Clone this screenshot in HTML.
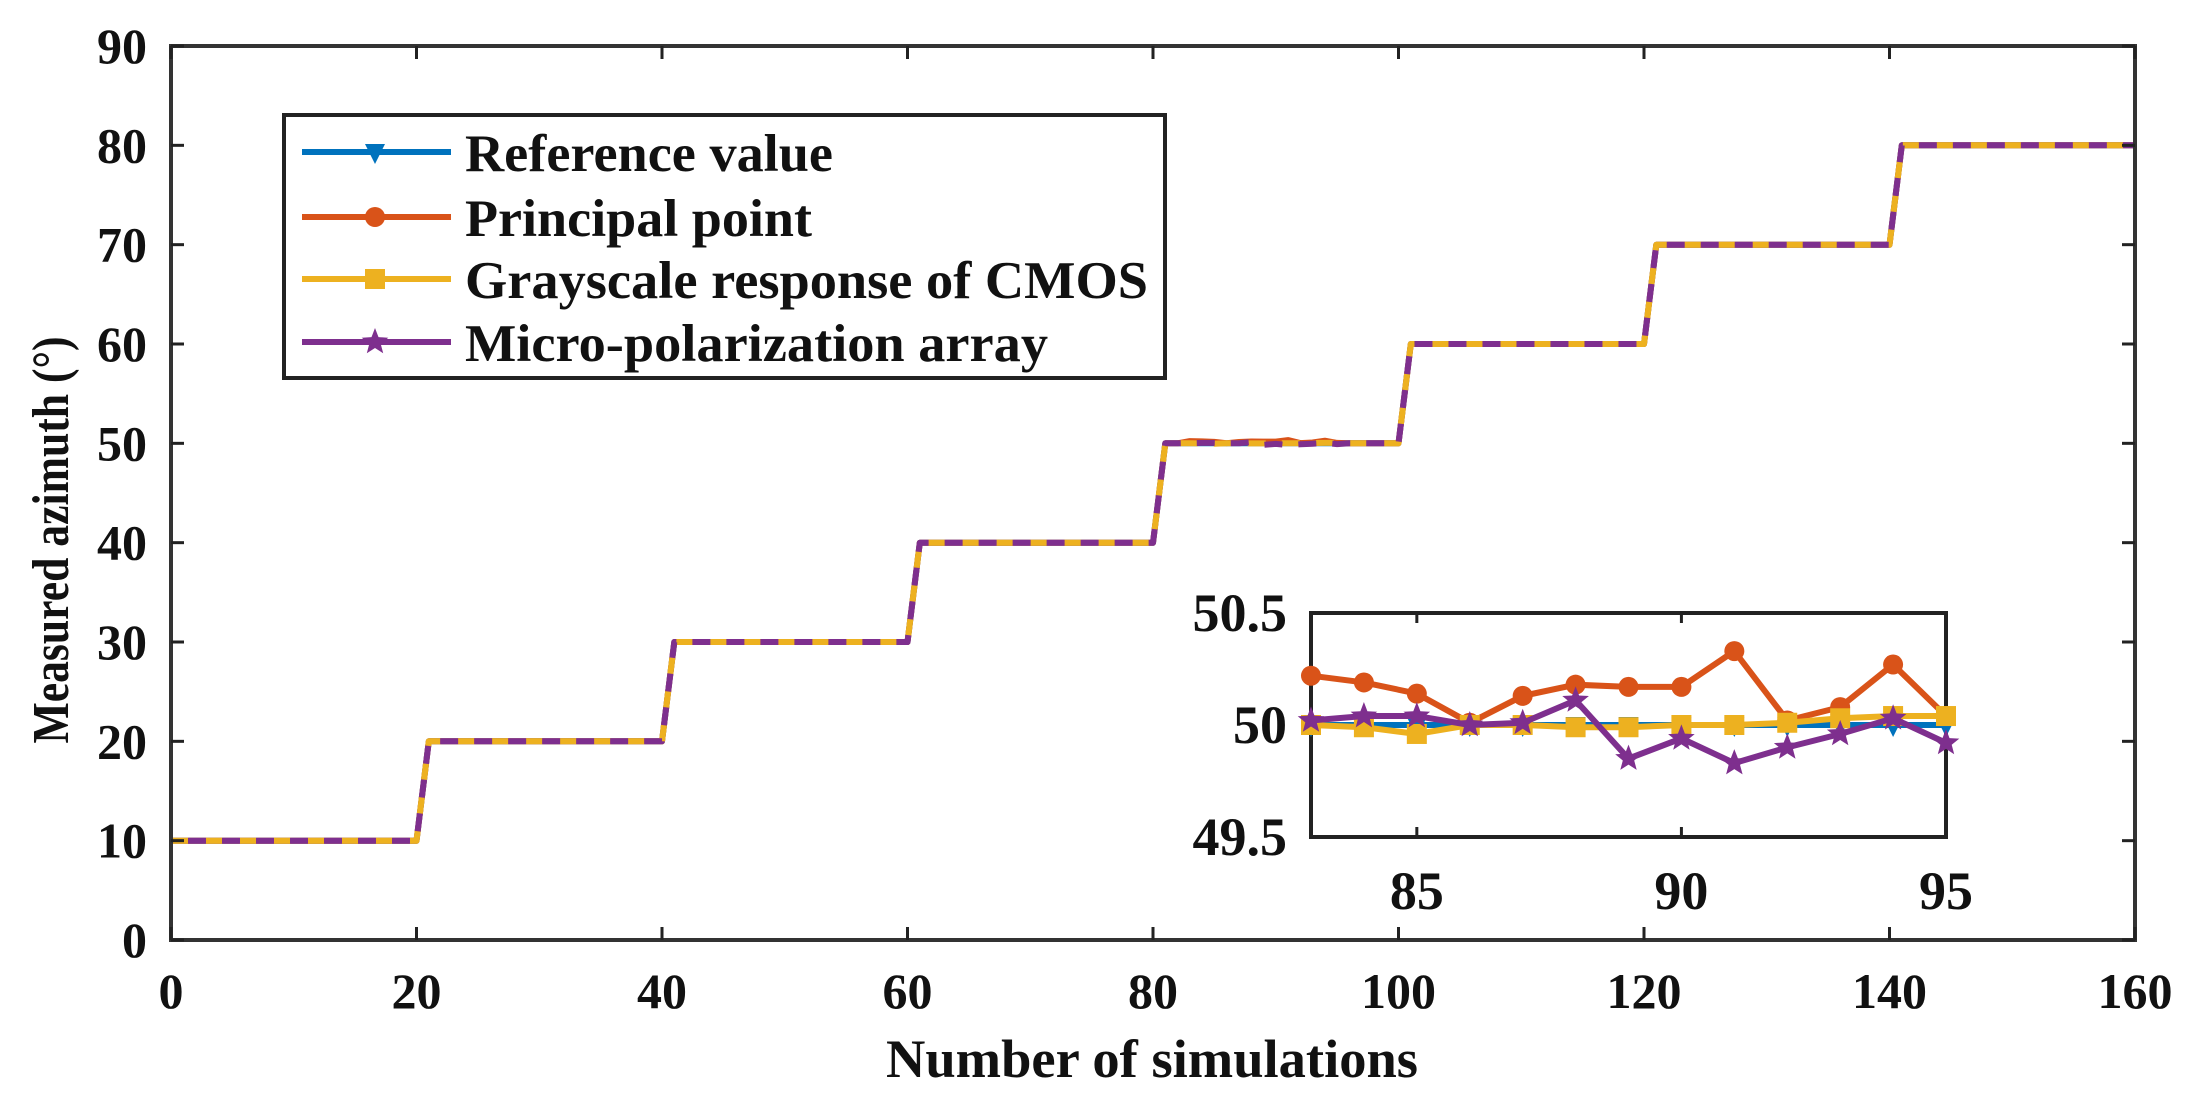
<!DOCTYPE html>
<html><head><meta charset="utf-8"><style>
html,body{margin:0;padding:0;background:#fff;}
svg{display:block;font-family:"Liberation Serif",serif;font-weight:bold;}
</style></head><body>
<svg id="chart" width="2195" height="1113" viewBox="0 0 2195 1113" xmlns="http://www.w3.org/2000/svg">
<rect width="2195" height="1113" fill="#fff"/>
<g id="main"></g>
<g id="inset"></g>
<g id="legend"></g>
</svg>
<script>
// ---- data ----
const stepLevels = [10,20,30,40,50,60,70,80];
const samplesPerStep = 20;
const xTicks = [0,20,40,60,80,100,120,140,160];
const yTicks = [0,10,20,30,40,50,60,70,80,90];
const insetX = [83,84,85,86,87,88,89,90,91,92,93,94,95];
const insetRef = [50,50,50,50,50,50,50,50,50,50,50,50,50];
const insetPrincipal = [50.22,50.19,50.14,50.01,50.13,50.18,50.17,50.17,50.33,50.02,50.08,50.27,50.04];
const insetGray = [50.0,49.99,49.96,50.0,50.0,49.99,49.99,50.0,50.0,50.01,50.03,50.04,50.04];
const insetMicro = [50.02,50.04,50.04,50.0,50.01,50.11,49.85,49.94,49.83,49.90,49.96,50.03,49.92];
const insetXTicks = [85,90,95];
const insetYTicks = [49.5,50,50.5];
const insetYLabels = ["49.5","50","50.5"];
const seriesNames = ["Reference value","Principal point","Grayscale response of CMOS","Micro-polarization array"];

const NS="http://www.w3.org/2000/svg";
function mk(tag,attrs,parent){const e=document.createElementNS(NS,tag);for(const k in attrs)e.setAttribute(k,attrs[k]);parent.appendChild(e);return e;}
const colors=["#0072BD","#D95319","#EDB120","#7E2F8E"];

const L=171,R=2135,T=46,B=940;
const sx=v=>L+(v-0)/(160-0)*(R-L);
const sy=v=>B-(v-0)/(90-0)*(B-T);
const main=document.getElementById('main');

function seriesMain(offsets){
  const pts=[];
  for(let x=0;x<=160;x++){
    let g=Math.min(stepLevels.length-1,Math.max(0,Math.ceil(x/samplesPerStep)-1));
    let v=stepLevels[g];
    const k=insetX.indexOf(x);
    if(k>=0&&offsets) v=v+(offsets[k]-50);
    pts.push([x,v]);
  }
  return pts;
}
const mainSeries=[seriesMain(insetRef),seriesMain(insetPrincipal),seriesMain(insetGray),seriesMain(insetMicro)];
const dashes=["","","18 16","18 16"];
const dashOff=["0","0","0","17"];
mainSeries.forEach((s,i)=>{
  const p=mk('polyline',{points:s.map(d=>sx(d[0]).toFixed(1)+','+sy(d[1]).toFixed(1)).join(' '),fill:'none',stroke:colors[i],'stroke-width':6,'stroke-dasharray':dashes[i]||'none','stroke-dashoffset':dashOff[i],'stroke-linejoin':'round'},main);
  
  
});
const frame=mk('rect',{x:L,y:T,width:R-L,height:B-T,fill:'none',stroke:'#333','stroke-width':4},main);


xTicks.forEach(v=>{
  mk('line',{x1:sx(v),x2:sx(v),y1:B,y2:B-13,stroke:'#222','stroke-width':3},main);
  mk('line',{x1:sx(v),x2:sx(v),y1:T,y2:T+13,stroke:'#222','stroke-width':3},main);
  const t=mk('text',{x:sx(v),y:1008,'font-size':50,'text-anchor':'middle',fill:'#111'},main);
  t.textContent=v;
  
  
});
yTicks.forEach(v=>{
  mk('line',{x1:L,x2:L+13,y1:sy(v),y2:sy(v),stroke:'#222','stroke-width':3},main);
  mk('line',{x1:R,x2:R-13,y1:sy(v),y2:sy(v),stroke:'#222','stroke-width':3},main);
  const t=mk('text',{x:147,y:sy(v)+17,'font-size':50,'text-anchor':'end',fill:'#111'},main);
  t.textContent=v;
  
  
});
const xt=mk('text',{x:1152,y:1077,'font-size':54,'text-anchor':'middle',fill:'#111',textLength:532,lengthAdjust:'spacingAndGlyphs'},main);
xt.textContent="Number of simulations";


const yt=mk('text',{x:0,y:0,'font-size':52,'text-anchor':'middle',fill:'#111',transform:'translate(68,540) rotate(-90)',textLength:407,lengthAdjust:'spacingAndGlyphs'},main);
yt.textContent="Measured azimuth (°)";



const iL=1311,iR=1946,iT=613,iB=837;
const ix=v=>iL+(v-83)/(95-83)*(iR-iL);
const iy=v=>iB-(v-49.5)/(50.5-49.5)*(iB-iT);
const inset=document.getElementById('inset');
const ib=mk('rect',{x:iL,y:iT,width:iR-iL,height:iB-iT,fill:'#fff',stroke:'#222','stroke-width':4},inset);


function marker(type,x,y,c,g){
  if(type===0){mk('polygon',{points:`${x-10},${y-8} ${x+10},${y-8} ${x},${y+12}`,fill:c},g);}
  else if(type===1){mk('circle',{cx:x,cy:y,r:10,fill:c},g);}
  else if(type===2){mk('rect',{x:x-10,y:y-10,width:20,height:20,fill:c},g);}
  else{let p=[];for(let k=0;k<10;k++){const r=k%2?6:14;const a=-Math.PI/2+k*Math.PI/5;p.push((x+r*Math.cos(a)).toFixed(1)+','+(y+r*Math.sin(a)).toFixed(1));}mk('polygon',{points:p.join(' '),fill:c},g);}
}
const insetSeries=[insetRef,insetPrincipal,insetGray,insetMicro];
insetSeries.forEach((s,i)=>{
  const g=mk('g',{},inset);
  
  
  mk('polyline',{points:s.map((v,k)=>ix(insetX[k]).toFixed(1)+','+iy(v).toFixed(1)).join(' '),fill:'none',stroke:colors[i],'stroke-width':6},g);
  s.forEach((v,k)=>marker(i,ix(insetX[k]),iy(v),colors[i],g));
});
insetXTicks.forEach(v=>{
  mk('line',{x1:ix(v),x2:ix(v),y1:iB,y2:iB-10,stroke:'#222','stroke-width':3},inset);
  mk('line',{x1:ix(v),x2:ix(v),y1:iT,y2:iT+10,stroke:'#222','stroke-width':3},inset);
  const t=mk('text',{x:ix(v),y:909,'font-size':54,'text-anchor':'middle',fill:'#111'},inset);
  t.textContent=v;
  
  
});
insetYTicks.forEach((v,k)=>{
  const t=mk('text',{x:1287,y:iy(v)+18,'font-size':54,'text-anchor':'end',fill:'#111'},inset);
  t.textContent=insetYLabels[k];
  
  
});

const leg=document.getElementById('legend');
const lb=mk('rect',{x:284,y:115,width:881,height:263,fill:'#fff',stroke:'#222','stroke-width':4},leg);


const legY=[152,217,279,342];
const legW=[368,347,683,583];
seriesNames.forEach((n,i)=>{
  const g=mk('g',{},leg);
  
  
  mk('line',{x1:302,x2:451,y1:legY[i],y2:legY[i],stroke:colors[i],'stroke-width':6},g);
  marker(i,375,legY[i],colors[i],g);
  const t=mk('text',{x:465,y:legY[i]+19,'font-size':53,fill:'#111',textLength:legW[i],lengthAdjust:'spacingAndGlyphs'},g);
  t.textContent=n;
});
</script>
</body></html>
